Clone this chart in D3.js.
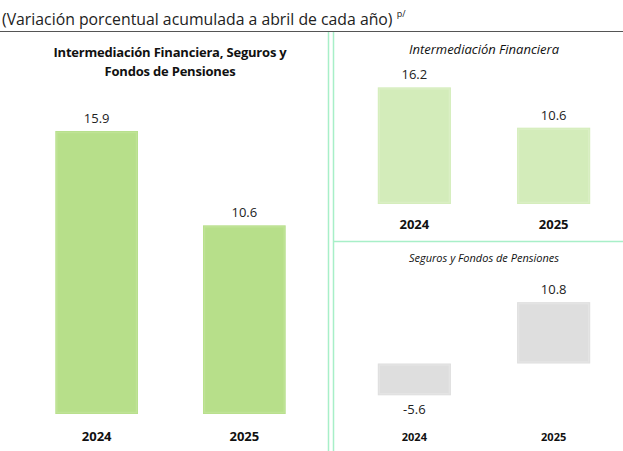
<!DOCTYPE html>
<html>
<head>
<meta charset="utf-8">
<script src="https://cdn.jsdelivr.net/npm/d3@7"></script>
<style>
  body { margin: 0; background: #fff; }
  text { font-family: "Open Sans", "Noto Sans", sans-serif; fill: #111; }
</style>
</head>
<body>
<div id="chart"></div>
<script>
// data
var years = ["2024", "2025"];
var totalValues = [15.9, 10.6];       // Intermediación Financiera, Seguros y Fondos de Pensiones
var financialValues = [16.2, 10.6];   // Intermediación Financiera
var insuranceValues = [-5.6, 10.8];   // Seguros y Fondos de Pensiones

var width = 623, height = 451;

var svg = d3.select("#chart")
  .append("svg")
    .attr("width", width)
    .attr("height", height);

// header
var head = svg.append("text")
  .attr("x", 2)
  .attr("y", 25)
  .style("font-size", "15.8px")
  .style("fill", "#222")
  .text("(Variación porcentual acumulada a abril de cada año) ");
head.append("tspan")
  .attr("dy", -8)
  .style("font-size", "9px")
  .text("p/");

svg.append("line")
  .attr("x1", 0).attr("x2", width)
  .attr("y1", 31.5).attr("y2", 31.5)
  .attr("stroke", "#555").attr("stroke-width", 1.2);

// separators
[328.5, 333.5].forEach(function(x){
  svg.append("line")
    .attr("x1", x).attr("x2", x)
    .attr("y1", 32).attr("y2", height)
    .attr("stroke", "#a8efc8").attr("stroke-width", 1.5);
});
svg.append("line")
  .attr("x1", 334).attr("x2", width)
  .attr("y1", 241.5).attr("y2", 241.5)
  .attr("stroke", "#a8efc8").attr("stroke-width", 1.5);

function drawPanel(opts){
  var g = svg.append("g");
  var data = years.map(function(d, i){ return {year: d, value: opts.values[i]}; });

  var x = d3.scaleBand()
    .domain(years)
    .range(opts.xRange)
    .paddingInner(opts.padInner)
    .paddingOuter(0.3);

  var y = d3.scaleLinear()
    .domain(opts.yDomain)
    .range(opts.yRange);

  var bars = g.selectAll("g.bar")
    .data(data)
    .enter()
    .append("g")
    .attr("class", "bar");

  bars.append("rect")
    .attr("x", function(d){ return x(d.year); })
    .attr("y", function(d){ return y(Math.max(0, d.value)); })
    .attr("width", x.bandwidth())
    .attr("height", function(d){ return Math.abs(y(d.value) - y(0)); })
    .attr("fill", opts.color);

  // soft bevel edge
  bars.append("rect")
    .attr("x", function(d){ return x(d.year) + 1.5; })
    .attr("y", function(d){ return y(Math.max(0, d.value)) + 1.5; })
    .attr("width", x.bandwidth() - 3)
    .attr("height", function(d){ return Math.abs(y(d.value) - y(0)) - 3; })
    .attr("fill", "none")
    .attr("stroke", opts.edge)
    .attr("stroke-width", 1.5);

  bars.append("text")
    .attr("x", function(d){ return x(d.year) + x.bandwidth() / 2; })
    .attr("y", function(d){
      return d.value >= 0 ? y(d.value) - 8 : y(d.value) + 19;
    })
    .attr("text-anchor", "middle")
    .style("font-size", opts.labelSize)
    .style("fill", "#222")
    .text(function(d){ return d.value.toFixed(1); });

  g.selectAll("text.year")
    .data(years)
    .enter()
    .append("text")
    .attr("class", "year")
    .attr("x", function(d){ return x(d) + x.bandwidth() / 2; })
    .attr("y", opts.yearY)
    .attr("text-anchor", "middle")
    .style("font-size", opts.yearSize)
    .style("font-weight", "bold")
    .text(function(d){ return d; });

  var t = g.append("text")
    .attr("x", opts.titleX)
    .attr("y", opts.titleY)
    .attr("text-anchor", "middle")
    .style("font-size", opts.titleSize)
    .style("font-weight", opts.titleWeight)
    .style("font-style", opts.titleStyle)
    .style("letter-spacing", opts.titleSpacing || "0px");
  opts.title.forEach(function(line, i){
    t.append("tspan")
      .attr("x", opts.titleX)
      .attr("dy", i ? 19 : 0)
      .text(line);
  });
}

drawPanel({
  values: totalValues,
  xRange: [11, 330], padInner: 0.44,
  yDomain: [0, 16], yRange: [414, 414 - 16 * 17.8],
  color: "#b7df8a", edge: "#bfe396",
  labelSize: "13px", yearY: 441, yearSize: "13px",
  title: ["Intermediación Financiera, Seguros y", "Fondos de Pensiones"],
  titleX: 170, titleY: 57, titleSize: "13px", titleWeight: "bold", titleStyle: "normal",
  titleSpacing: "-0.2px"
});

drawPanel({
  values: financialValues,
  xRange: [336, 632], padInner: 0.475,
  yDomain: [0, 17], yRange: [204, 204 - 17 * 7.2],
  color: "#d3ecba", edge: "#daefc4",
  labelSize: "13px", yearY: 229, yearSize: "13px",
  title: ["Intermediación Financiera"],
  titleX: 484, titleY: 54, titleSize: "13px", titleWeight: "normal", titleStyle: "italic"
});

drawPanel({
  values: insuranceValues,
  xRange: [336, 632], padInner: 0.475,
  yDomain: [-6, 11], yRange: [363.5 + 6 * 5.68, 363.5 - 11 * 5.68],
  color: "#dedede", edge: "#e4e4e4",
  labelSize: "13px", yearY: 441, yearSize: "11px",
  title: ["Seguros y Fondos de Pensiones"],
  titleX: 484, titleY: 262, titleSize: "11px", titleWeight: "normal", titleStyle: "italic"
});
</script>
</body>
</html>
